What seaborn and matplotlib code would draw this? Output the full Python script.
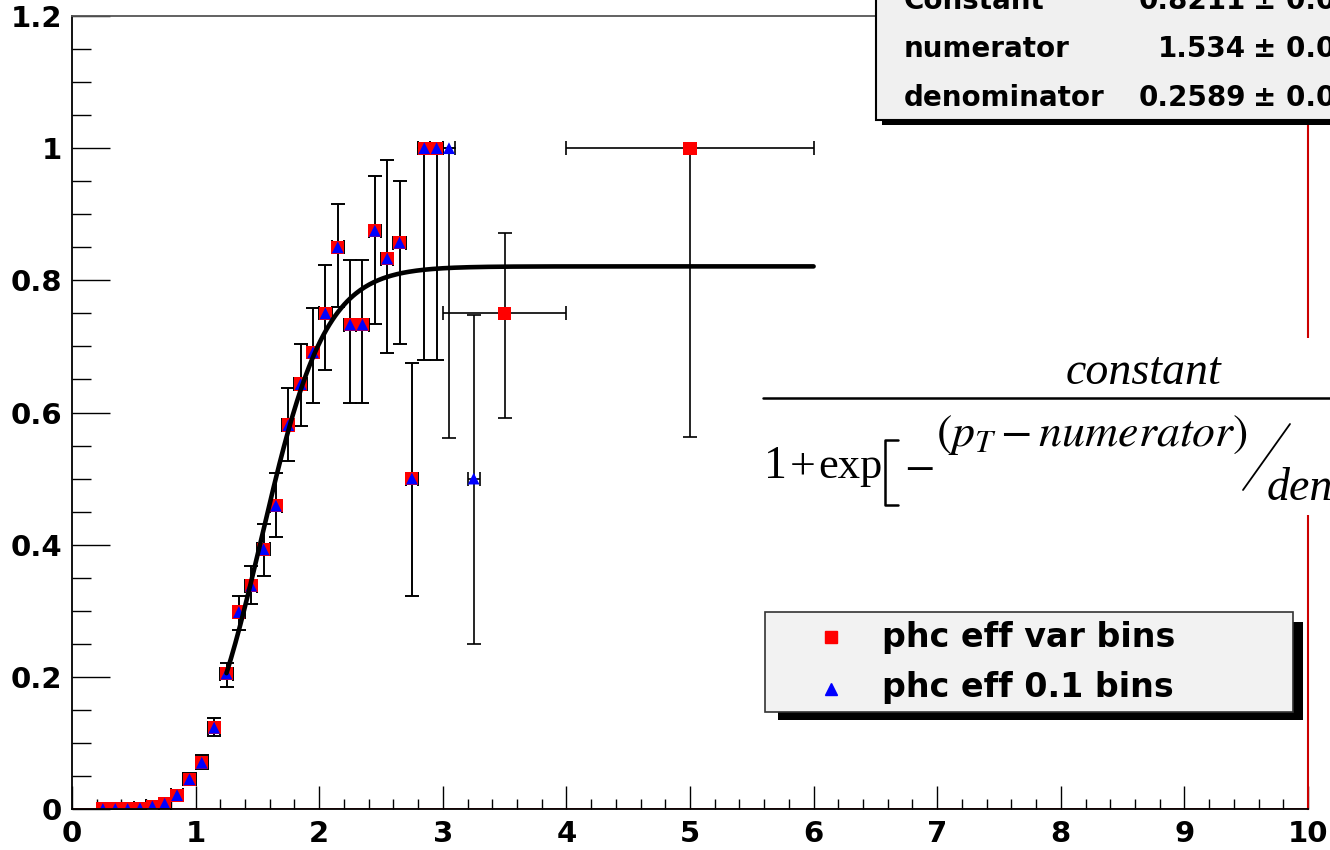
import numpy as np
import matplotlib
matplotlib.use("Agg")
import matplotlib.pyplot as plt
import seaborn as sns
from matplotlib.patches import Rectangle
from matplotlib.lines import Line2D

# ---------------- data ----------------
# 0.1-wide bins (both series share them below pT = 3)
x_fine = [0.25, 0.35, 0.45, 0.55, 0.65, 0.75, 0.85, 0.95, 1.05, 1.15,
          1.25, 1.35, 1.45, 1.55, 1.65, 1.75, 1.85, 1.95, 2.05, 2.15,
          2.25, 2.35, 2.45, 2.55, 2.65, 2.75, 2.85, 2.95]
eff_fine = [0.0, 0.0, 0.0, 0.001, 0.004, 0.008, 0.021, 0.045, 0.070, 0.123,
            0.205, 0.298, 0.338, 0.393, 0.459, 0.581, 0.643, 0.691, 0.750, 0.850,
            0.733, 0.733, 0.875, 0.833, 0.857, 0.500, 1.000, 1.000]
err_lo_fine = [0.0, 0.0, 0.0, 0.001, 0.003, 0.004, 0.006, 0.008, 0.010, 0.013,
               0.020, 0.027, 0.028, 0.040, 0.048, 0.055, 0.063, 0.077, 0.085, 0.090,
               0.118, 0.118, 0.141, 0.143, 0.153, 0.178, 0.320, 0.320]
err_hi_fine = [0.003, 0.003, 0.003, 0.003, 0.004, 0.005, 0.007, 0.009, 0.011, 0.014,
               0.016, 0.025, 0.030, 0.038, 0.049, 0.056, 0.061, 0.067, 0.073, 0.066,
               0.098, 0.098, 0.083, 0.149, 0.093, 0.175, 0.0, 0.0]

# extra points of the 0.1-bin series above pT = 3
x_extra = [3.05, 3.25]
eff_extra = [1.0, 0.5]
err_lo_extra = [0.438, 0.250]
err_hi_extra = [0.0, 0.248]

# wide bins of the variable-bin series
x_wide = [3.5, 5.0]
xerr_wide = [0.5, 1.0]
eff_wide = [0.75, 1.0]
err_lo_wide = [0.158, 0.437]
err_hi_wide = [0.121, 0.0]

# fit parameters (from the stats box)
fit_constant = 0.8211
fit_numerator = 1.534
fit_denominator = 0.2589
fit_range = [1.25, 6.0]

xticks = [0, 1, 2, 3, 4, 5, 6, 7, 8, 9, 10]
xticklabels = ["0", "1", "2", "3", "4", "5", "6", "7", "8", "9", "10"]
yticks = [0, 0.2, 0.4, 0.6, 0.8, 1.0, 1.2]
yticklabels = ["0", "0.2", "0.4", "0.6", "0.8", "1", "1.2"]

legend_labels = ["phc eff var bins", "phc eff 0.1 bins"]
stat_names = ["Constant", "numerator", "denominator"]
stat_values = ["0.8211", "1.534", "0.2589"]

# ---------------- figure ----------------
sns.set_theme(style="ticks")
plt.rcParams["font.family"] = ["DejaVu Sans"]
plt.rcParams["mathtext.fontset"] = "stix"

W, H = 1330, 850
fig = plt.figure(figsize=(W / 100, H / 100), dpi=100)
fig.patch.set_facecolor("white")

def fx(px):
    return px / W

def fy(py):
    return 1 - py / H

ax = fig.add_axes([fx(72), fy(809), (1308 - 72) / W, (809 - 16) / H])
ax.set_facecolor("white")

# var-bin series
x_var = x_fine + x_wide
y_var = eff_fine + eff_wide
xe_var = [0.05] * len(x_fine) + xerr_wide
lo_var = err_lo_fine + err_lo_wide
hi_var = err_hi_fine + err_hi_wide
ax.errorbar(x_var, y_var, xerr=xe_var, yerr=[lo_var, hi_var], fmt="none",
            ecolor="black", elinewidth=1.2, capsize=5, capthick=1.2, zorder=2)

# 0.1-bin series
x_01 = x_fine + x_extra
y_01 = eff_fine + eff_extra
lo_01 = err_lo_fine + err_lo_extra
hi_01 = err_hi_fine + err_hi_extra
ax.errorbar(x_01, y_01, xerr=[0.05] * len(x_01), yerr=[lo_01, hi_01], fmt="none",
            ecolor="black", elinewidth=1.2, capsize=5, capthick=1.2, zorder=2)

sns.scatterplot(x=x_var, y=y_var, marker="s", color="#ff0000", s=90,
                edgecolor="none", linewidth=0, ax=ax, zorder=3)
sns.scatterplot(x=x_01, y=y_01, marker="^", color="#0000ff", s=72,
                edgecolor="none", linewidth=0, ax=ax, zorder=4)

# fit curve
xf = np.linspace(fit_range[0], fit_range[1], 400)
yf = fit_constant / (1 + np.exp(-(xf - fit_numerator) / fit_denominator))
sns.lineplot(x=xf, y=yf, color="black", linewidth=3.3, ax=ax, zorder=5)

# zero-level histogram line (red)
ax.axhline(0, color="#dd0000", lw=1.2, zorder=6)

ax.set_xlim(0, 10)
ax.set_ylim(0, 1.2)
ax.set_xticks(xticks)
ax.set_xticklabels(xticklabels)
ax.set_yticks(yticks)
ax.set_yticklabels(yticklabels)
ax.set_xticks(np.arange(0, 10.01, 0.2), minor=True)
ax.set_yticks(np.arange(0, 1.201, 0.05), minor=True)
ax.set_xlabel("")
ax.set_ylabel("")

ax.tick_params(axis="x", which="major", direction="in", length=16.5, width=1.0,
               color="black", pad=8, labelsize=21)
ax.tick_params(axis="x", which="minor", direction="in", length=7.5, width=1.0,
               color="black")
ax.tick_params(axis="y", which="major", direction="in", length=27, width=1.0,
               color="black", pad=7, labelsize=21)
ax.tick_params(axis="y", which="minor", direction="in", length=13.5, width=1.0,
               color="black")
for lab in ax.get_xticklabels() + ax.get_yticklabels():
    lab.set_fontweight("bold")
    lab.set_color("black")

for side in ["left", "bottom"]:
    ax.spines[side].set_color("black")
    ax.spines[side].set_linewidth(1.3)
ax.spines["top"].set_color("#555555")
ax.spines["top"].set_linewidth(1.3)
ax.spines["right"].set_color("#cc0000")
ax.spines["right"].set_linewidth(1.5)
for s in ax.spines.values():
    s.set_visible(True)
    s.set_zorder(7)

# ---------------- stats box ----------------
fig.add_artist(Rectangle((fx(882), fy(125)), fx(1400) - fx(882), fy(-10) - fy(125),
                         transform=fig.transFigure, facecolor="black",
                         edgecolor="none", zorder=10))
fig.add_artist(Rectangle((fx(876), fy(120)), fx(1400) - fx(876), fy(-10) - fy(120),
                         transform=fig.transFigure, facecolor="#f0f0f0",
                         edgecolor="black", linewidth=1.5, zorder=11))
baselines = [9, 57, 106]
for name, val, b in zip(stat_names, stat_values, baselines):
    fig.text(fx(904), fy(b), name, ha="left", va="baseline", fontsize=20,
             fontweight="bold", color="black", zorder=12)
    fig.text(fx(1246), fy(b), val, ha="right", va="baseline", fontsize=20,
             fontweight="bold", color="black", zorder=12)
    fig.text(fx(1253), fy(b), "\u00b1 0.0", ha="left", va="baseline", fontsize=20,
             fontweight="bold", color="black", zorder=12)

# ---------------- formula ----------------
serif = ["Liberation Serif", "DejaVu Serif"]
fig.add_artist(Rectangle((fx(763), fy(515)), fx(1400) - fx(763), fy(338) - fy(515),
                         transform=fig.transFigure, facecolor="white",
                         edgecolor="none", zorder=10))
fig.text(fx(1143), fy(384), "constant", ha="center", va="baseline",
         fontsize=33, family=serif, style="italic", color="black", zorder=12)
fig.add_artist(Line2D([fx(763), fx(1340)], [fy(398), fy(398)],
                      transform=fig.transFigure, color="black", lw=1.8, zorder=12))
fig.text(fx(764), fy(478), "1", ha="left", va="baseline",
         fontsize=33, family=serif, color="black", zorder=12)
fig.text(fx(790), fy(478), "+", ha="left", va="baseline",
         fontsize=33, family=serif, color="black", zorder=12)
fig.text(fx(818), fy(478), "exp", ha="left", va="baseline",
         fontsize=32, family=serif, color="black", zorder=12)
fig.add_artist(Line2D([fx(898), fx(885), fx(885), fx(898)],
                      [fy(440), fy(440), fy(505), fy(505)],
                      transform=fig.transFigure, color="black", lw=1.8, zorder=12))
fig.text(fx(904), fy(478), r"$-$", ha="left", va="baseline",
         fontsize=32, color="black", zorder=12)
fig.text(fx(936), fy(446), r"$(p_{T}-numerator)$", ha="left", va="baseline",
         fontsize=33, color="black", zorder=12)
fig.add_artist(Line2D([fx(1243), fx(1290)], [fy(490), fy(424)],
                      transform=fig.transFigure, color="black", lw=1.3, zorder=12))
fig.text(fx(1267), fy(500), "den", ha="left", va="baseline",
         fontsize=33, family=serif, style="italic", color="black", zorder=12)

# ---------------- legend ----------------
fig.add_artist(Rectangle((fx(778), fy(720)), fx(1303) - fx(778), fy(622) - fy(720),
                         transform=fig.transFigure, facecolor="black",
                         edgecolor="none", zorder=10))
fig.add_artist(Rectangle((fx(765), fy(712)), fx(1293) - fx(765), fy(612) - fy(712),
                         transform=fig.transFigure, facecolor="#f2f2f2",
                         edgecolor="#333333", linewidth=1.2, zorder=11))
fig.add_artist(Line2D([fx(831)], [fy(637)], transform=fig.transFigure, marker="s",
                      markersize=8, color="#ff0000", linestyle="none", zorder=12))
fig.add_artist(Line2D([fx(831)], [fy(689)], transform=fig.transFigure, marker="^",
                      markersize=8, color="#0000ff", linestyle="none", zorder=12))
fig.text(fx(882), fy(637), legend_labels[0], ha="left", va="center", fontsize=24,
         fontweight="bold", color="black", zorder=12)
fig.text(fx(882), fy(688), legend_labels[1], ha="left", va="center", fontsize=24,
         fontweight="bold", color="black", zorder=12)

fig.savefig("out.png", dpi=100)
